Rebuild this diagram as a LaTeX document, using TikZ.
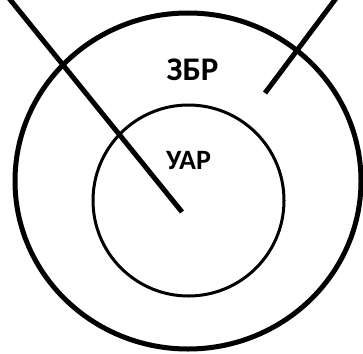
\documentclass[tikz,border=0pt]{standalone}
\usepackage{fontspec}
\setmainfont{Carlito}
\begin{document}
\begin{tikzpicture}[x=1pt,y=-1pt,
  thick line/.style={line width=5pt},
  thin ring/.style={line width=3pt},
  label text/.style={font=\bfseries, inner sep=0pt}]
\useasboundingbox (0,0) rectangle (363,353);
% outer ring
\draw[thick line] (188,181) ellipse [x radius=173pt, y radius=168pt];
% inner ring
\draw[thin ring] (188.5,200.5) circle [radius=95.5pt];
% pointer lines
\coordinate (p1s) at (8,-3);
\coordinate (p1e) at (182,212);
\coordinate (p2s) at (337,-3);
\coordinate (p2e) at (265,93);
\draw[thick line] (p1s) -- (p1e);
\draw[thick line] (p2s) -- (p2e);
% labels
\node[label text, font=\bfseries\fontsize{33}{38}\selectfont] (zbr) at (192.5,69.5) {ЗБР};
\node[label text, font=\bfseries\fontsize{28}{33}\selectfont] (uar) at (188.5,160.5) {УАР};
\end{tikzpicture}
\end{document}
